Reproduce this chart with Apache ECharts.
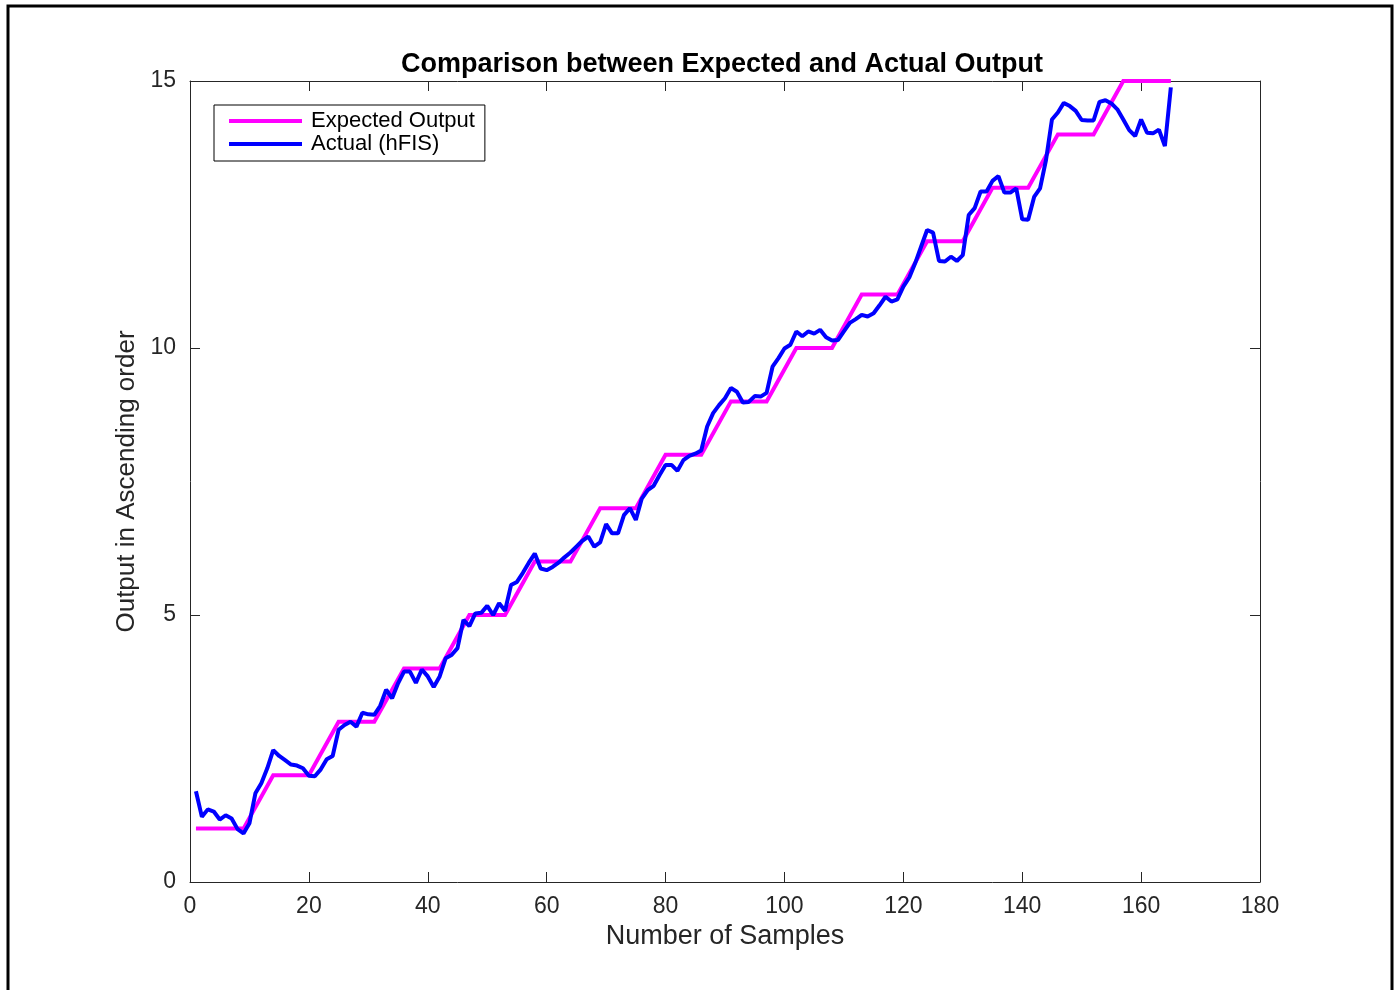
<!DOCTYPE html>
<html>
<head>
<meta charset="utf-8">
<script src="https://cdn.jsdelivr.net/npm/echarts@6/dist/echarts.min.js"></script>
<style>
html,body{margin:0;padding:0;background:#fff;}
#chart{width:1398px;height:990px;}
</style>
</head>
<body>
<div id="chart"></div>
<script>
// Expected output: corner points of the step/ramp line
const expectedX = [1, 9, 14, 20, 25, 31, 36, 42, 47, 53, 58, 64, 69, 75, 80, 86, 91, 97, 102, 108, 113, 119, 124, 130, 135, 141, 146, 152, 157, 165];
const expectedY = [1, 1, 2, 2, 3, 3, 4, 4, 5, 5, 6, 6, 7, 7, 8, 8, 9, 9, 10, 10, 11, 11, 12, 12, 13, 13, 14, 14, 15, 15];

// Actual (hFIS) output, samples 1..165
const actual = [
  1.70, 1.22, 1.36, 1.32, 1.17, 1.25, 1.19, 0.99, 0.91, 1.10,
  1.66, 1.85, 2.13, 2.47, 2.36, 2.28, 2.20, 2.18, 2.13, 1.99,
  1.98, 2.11, 2.30, 2.36, 2.85, 2.94, 3.00, 2.91, 3.17, 3.14,
  3.13, 3.30, 3.60, 3.44, 3.72, 3.94, 3.94, 3.73, 3.98, 3.85,
  3.65, 3.85, 4.19, 4.25, 4.38, 4.91, 4.79, 5.03, 5.04, 5.17,
  5.00, 5.22, 5.08, 5.56, 5.62, 5.79, 5.98, 6.15, 5.87, 5.84,
  5.90, 5.98, 6.08, 6.17, 6.28, 6.39, 6.47, 6.28, 6.36, 6.70,
  6.53, 6.53, 6.87, 7.00, 6.78, 7.18, 7.34, 7.42, 7.62, 7.81,
  7.81, 7.70, 7.90, 7.98, 8.02, 8.08, 8.53, 8.78, 8.93, 9.06,
  9.25, 9.18, 8.98, 8.99, 9.10, 9.09, 9.16, 9.65, 9.81, 9.99,
  10.06, 10.31, 10.22, 10.31, 10.27, 10.34, 10.20, 10.14, 10.15, 10.31,
  10.47, 10.54, 10.62, 10.59, 10.65, 10.80, 10.96, 10.87, 10.91, 11.15,
  11.32, 11.59, 11.90, 12.21, 12.16, 11.63, 11.62, 11.71, 11.63, 11.74,
  12.49, 12.62, 12.93, 12.93, 13.13, 13.22, 12.91, 12.91, 12.99, 12.41,
  12.40, 12.83, 12.99, 13.52, 14.28, 14.41, 14.59, 14.53, 14.44, 14.27,
  14.26, 14.26, 14.61, 14.64, 14.58, 14.47, 14.28, 14.08, 13.97, 14.28,
  14.03, 14.02, 14.09, 13.78, 14.88
];

const xTicks = { min: 0, max: 180, interval: 20 };
const yTicks = { min: 0, max: 15, interval: 5 };

const seriesNames = ['Expected Output', 'Actual (hFIS)'];

const expectedData = expectedX.map((x, i) => [x, expectedY[i]]);
const actualData = actual.map((v, i) => [i + 1, v]);

const font = 'Liberation Sans, Arial, Helvetica, sans-serif';
const axisColor = '#262626';

const chart = echarts.init(document.getElementById('chart'), null, { renderer: 'canvas' });

const baseAxisLine = { show: true, onZero: false, lineStyle: { color: axisColor, width: 1 } };
const baseTick = { show: true, inside: true, length: 10, lineStyle: { color: axisColor, width: 1 } };

chart.setOption({
  backgroundColor: '#ffffff',
  animation: false,
  title: {
    text: 'Comparison between Expected and Actual Output',
    left: 722,
    top: 51,
    textAlign: 'center',
    padding: 0,
    textStyle: { fontFamily: font, fontSize: 27, fontWeight: 'bold', color: '#000' }
  },
  legend: {
    orient: 'vertical',
    left: 214,
    top: 105,
    data: seriesNames,
    backgroundColor: '#fff',
    borderColor: '#000',
    borderWidth: 1,
    padding: [5, 10, 6, 15],
    itemGap: 1,
    itemWidth: 73,
    itemHeight: 4,
    icon: 'rect',
    textStyle: { fontFamily: font, fontSize: 22, color: '#000', padding: [0, 0, 0, 4] }
  },
  grid: { left: 190, right: 138, top: 81, bottom: 108, containLabel: false },
  xAxis: [
    {
      type: 'value', min: xTicks.min, max: xTicks.max, interval: xTicks.interval,
      name: 'Number of Samples', nameLocation: 'middle', nameGap: 38,
      nameTextStyle: { fontFamily: font, fontSize: 27, color: axisColor },
      axisLine: baseAxisLine, axisTick: baseTick,
      axisLabel: { margin: 13, fontFamily: font, fontSize: 23, color: axisColor },
      splitLine: { show: false }
    },
    {
      type: 'value', position: 'top', min: xTicks.min, max: xTicks.max, interval: xTicks.interval,
      axisLine: baseAxisLine, axisTick: baseTick, axisLabel: { show: false }, splitLine: { show: false }
    }
  ],
  yAxis: [
    {
      type: 'value', min: yTicks.min, max: yTicks.max, interval: yTicks.interval,
      name: 'Output in Ascending order', nameLocation: 'middle', nameGap: 47, nameRotate: 90,
      nameTextStyle: { fontFamily: font, fontSize: 26, color: axisColor },
      axisLine: baseAxisLine, axisTick: baseTick,
      axisLabel: { margin: 14, fontFamily: font, fontSize: 23, color: axisColor },
      splitLine: { show: false }
    },
    {
      type: 'value', position: 'right', min: yTicks.min, max: yTicks.max, interval: yTicks.interval,
      axisLine: baseAxisLine, axisTick: baseTick, axisLabel: { show: false }, splitLine: { show: false }
    }
  ],
  series: [
    {
      name: seriesNames[0], type: 'line', data: expectedData,
      xAxisIndex: 0, yAxisIndex: 0, showSymbol: false, symbol: 'none', clip: false,
      lineStyle: { color: '#ff00ff', width: 4, join: 'miter' }, itemStyle: { color: '#ff00ff' }, z: 2
    },
    {
      name: seriesNames[1], type: 'line', data: actualData,
      xAxisIndex: 0, yAxisIndex: 0, showSymbol: false, symbol: 'none', clip: false,
      lineStyle: { color: '#0000ff', width: 4 }, itemStyle: { color: '#0000ff' }, z: 3
    }
  ],
  graphic: [
    {
      type: 'rect', silent: true, z: 100,
      shape: { x: 8, y: 6, width: 1384, height: 1000 },
      style: { fill: null, stroke: '#000', lineWidth: 3 }
    }
  ]
});
</script>
</body>
</html>
